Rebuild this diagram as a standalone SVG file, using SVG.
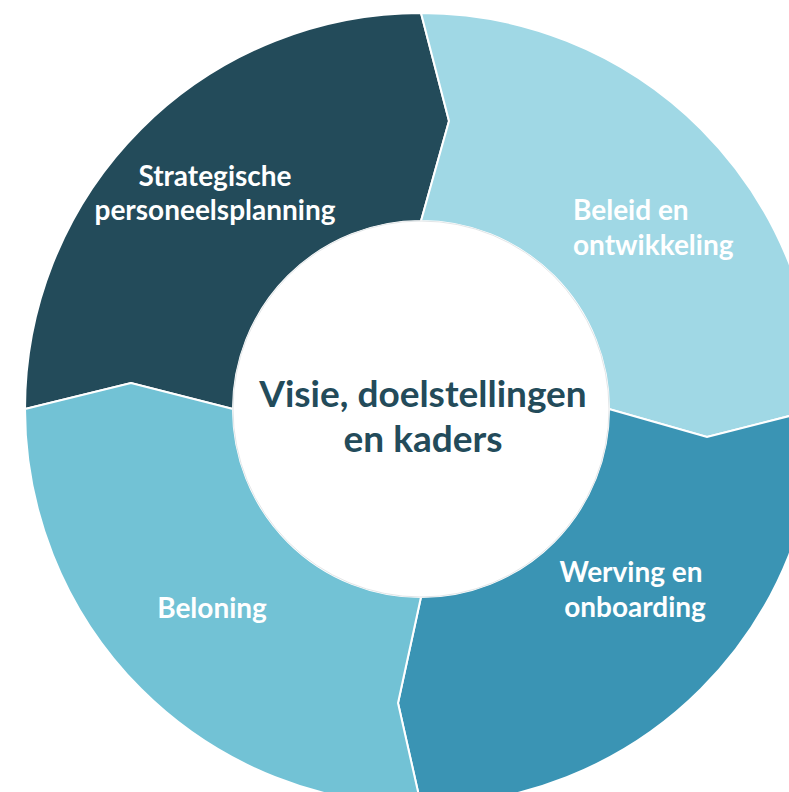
<svg xmlns="http://www.w3.org/2000/svg" width="789" height="792" viewBox="0 0 789 792">
  <style>
    .seg { stroke: #ffffff; stroke-width: 2; stroke-linejoin: miter; }
    .lbl { font-family: Lato, "Liberation Sans", sans-serif; font-weight: 700; font-size: 28px; fill: #ffffff; }
    .ctr { font-family: Lato, "Liberation Sans", sans-serif; font-weight: 700; font-size: 37px; fill: #234B5A; text-anchor: middle; }
  </style>
  <rect width="789" height="792" fill="#ffffff"/>
  <g id="strategische">
    <path class="seg" fill="#234B5A" d="M25,409 A396,396 0 0 1 421,13 L449,121 L421,221 A188,188 0 0 0 233,409 L131,383 Z"/>
    <text class="lbl" text-anchor="middle" x="215" y="186">Strategische</text>
    <text class="lbl" text-anchor="middle" x="215" y="220">personeelsplanning</text>
  </g>
  <g id="beleid">
    <path class="seg" fill="#A0D8E5" d="M421,13 A396,396 0 0 1 817,409 L707,437 L609,409 A188,188 0 0 0 421,221 L449,121 Z"/>
    <text class="lbl" x="573" y="220">Beleid en</text>
    <text class="lbl" x="573" y="255">ontwikkeling</text>
  </g>
  <g id="werving">
    <path class="seg" fill="#3A94B4" d="M817,409 A396,396 0 0 1 421,805 L398,703 L421,597 A188,188 0 0 0 609,409 L707,437 Z"/>
    <text class="lbl" text-anchor="middle" x="631" y="582">Werving en</text>
    <text class="lbl" text-anchor="middle" x="635" y="617">onboarding</text>
  </g>
  <g id="beloning">
    <path class="seg" fill="#72C2D5" d="M421,805 A396,396 0 0 1 25,409 L131,383 L233,409 A188,188 0 0 0 421,597 L398,703 Z"/>
    <text class="lbl" text-anchor="middle" x="212" y="618">Beloning</text>
  </g>
  <g id="connectors"></g>
  <g id="centre">
    <circle cx="421" cy="409" r="188" fill="#ffffff" stroke="#e2e6e8" stroke-width="1"/>
    <text class="ctr" x="423" y="407">Visie, doelstellingen</text>
    <text class="ctr" x="423" y="452">en kaders</text>
  </g>
</svg>
